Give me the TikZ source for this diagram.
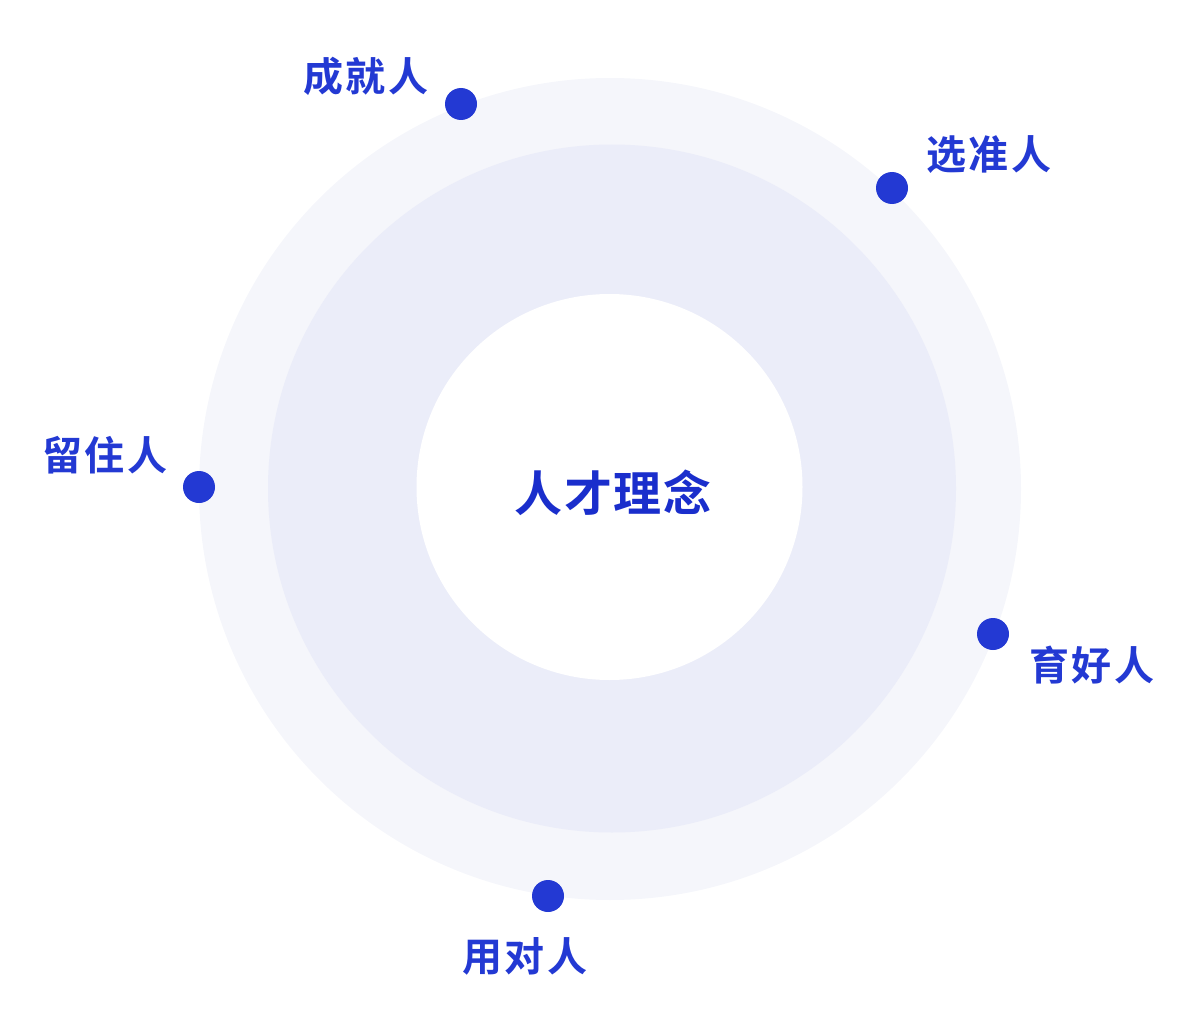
\documentclass[tikz,border=0pt]{standalone}
\usepackage{fontspec}
\newfontfamily\cjk{Noto Sans CJK SC Bold}
\definecolor{ringA}{HTML}{F5F6FB}
\definecolor{ringB}{HTML}{EBEDF9}
\definecolor{dotblue}{HTML}{2339D3}
\definecolor{txtblue}{HTML}{2339D3}
\definecolor{ctrblue}{HTML}{1A2ECC}
\newcommand\threech[3]{#1\kern2.5pt#2\kern2.5pt#3}
\begin{document}
\begin{tikzpicture}[x=1pt,y=-1pt,
  dotnode/.style={circle,fill=dotblue,minimum size=32pt,inner sep=0pt},
  lbl/.style={font=\cjk\fontsize{40}{42}\selectfont,text=txtblue,inner sep=0pt}]
\useasboundingbox (0,0) rectangle (1200,1014);
\fill[ringA] (610,489) circle (411);
\fill[ringB] (612,488.5) circle (344);
\fill[white] (609.5,487) circle (193);
\node[font=\cjk\fontsize{48}{50}\selectfont,text=ctrblue,inner sep=0pt] (c) at (613,493) {人\kern1.5pt 才\kern1.5pt 理\kern1.5pt 念};
\node[dotnode] (d1) at (461,104) {};
\node[dotnode] (d2) at (892,188) {};
\node[dotnode] (d3) at (199,487) {};
\node[dotnode] (d4) at (993,634) {};
\node[dotnode] (d5) at (548,896) {};
\node[lbl] (l1) at (366,76) {\threech{成}{就}{人}};
\node[lbl] (l2) at (989,155) {\threech{选}{准}{人}};
\node[lbl] (l3) at (105,455) {\threech{留}{住}{人}};
\node[lbl] (l4) at (1092,665) {\threech{育}{好}{人}};
\node[lbl] (l5) at (525,956) {\threech{用}{对}{人}};
\end{tikzpicture}
\end{document}
